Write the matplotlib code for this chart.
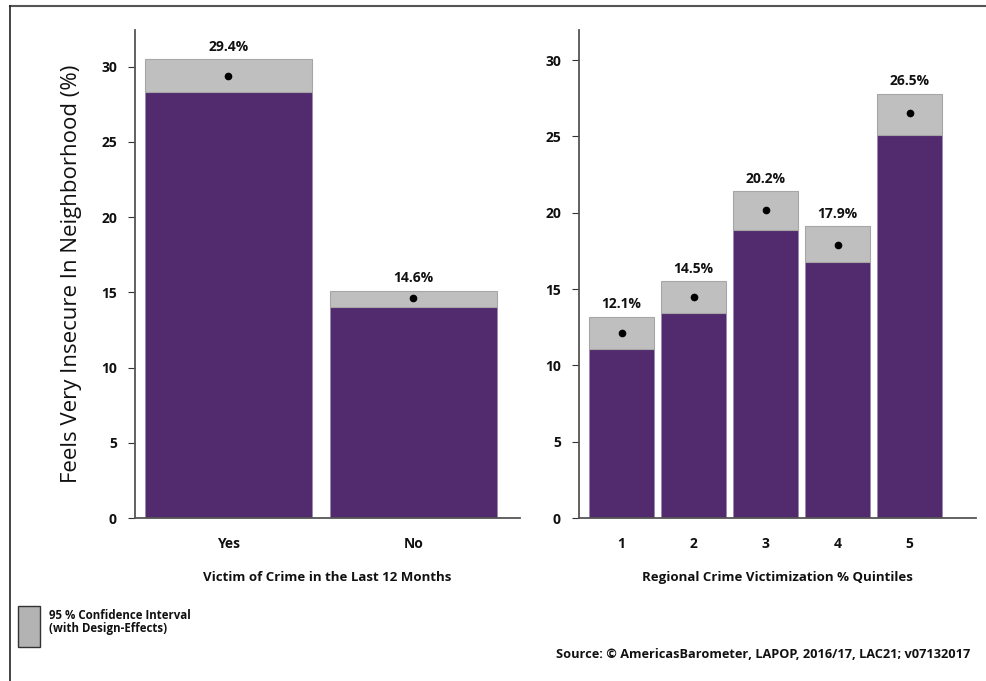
import matplotlib
matplotlib.use("Agg")
import matplotlib.pyplot as plt
from matplotlib.patches import Rectangle
from matplotlib.lines import Line2D

plt.rcParams['font.family'] = ['Open Sans', 'DejaVu Sans']

# Data
victim_cats = ["Yes", "No"]
victim_vals = [29.4, 14.6]
victim_lo = [28.3, 14.0]
victim_hi = [30.5, 15.1]

quint_cats = ["1", "2", "3", "4", "5"]
quint_vals = [12.1, 14.5, 20.2, 17.9, 26.5]
quint_lo = [11.1, 13.4, 18.9, 16.8, 25.1]
quint_hi = [13.2, 15.5, 21.4, 19.1, 27.8]

PURPLE = "#522a6e"
GREY = "#bfbfbf"
SPINE = "#555555"
WEIGHT = "bold"

W, H = 987, 681
fig = plt.figure(figsize=(W / 100, H / 100), dpi=100)


def px_axes(x0, y0, x1, y1):
    return fig.add_axes([x0 / W, 1 - y1 / H, (x1 - x0) / W, (y1 - y0) / H])


def panel(ax, cats, vals, lo, hi, xlim, ylim, xlabel):
    x = list(range(len(cats)))
    ax.bar(x, vals, width=0.9, color=PURPLE, edgecolor="#9c8aae", linewidth=0.6, zorder=2)
    for xi, l, h, v in zip(x, lo, hi, vals):
        ax.add_patch(Rectangle((xi - 0.45, l), 0.9, h - l, facecolor=GREY,
                               edgecolor="#a6a6a6", linewidth=0.8, zorder=3))
        ax.plot([xi], [v], marker="o", color="black", markersize=4.5, zorder=4)
        ax.annotate(f"{v:.1f}%", (xi, h), xytext=(0, 4), textcoords="offset points",
                    ha="center", va="bottom", fontsize=10, fontweight=WEIGHT, color="#111111")
    ax.set_xlim(*xlim)
    ax.set_ylim(*ylim)
    ax.set_xticks(x)
    ax.set_xticklabels(cats)
    ax.set_yticks([0, 5, 10, 15, 20, 25, 30])
    for s in ["top", "right"]:
        ax.spines[s].set_visible(False)
    for s in ["left", "bottom"]:
        ax.spines[s].set_color(SPINE)
        ax.spines[s].set_linewidth(1.3)
    ax.tick_params(axis="y", length=5, width=0.8, color="#333333", labelsize=10, pad=8)
    ax.tick_params(axis="x", length=0, labelsize=10, pad=14)
    for lab in ax.get_xticklabels() + ax.get_yticklabels():
        lab.set_fontweight(WEIGHT)
        lab.set_color("#111111")
    ax.set_xlabel(xlabel, fontsize=9.5, fontweight=WEIGHT, labelpad=14, color="#111111")


ax1 = px_axes(135, 30, 520, 518)
panel(ax1, victim_cats, victim_vals, victim_lo, victim_hi, (-0.505, 1.576), (0, 32.44),
      "Victim of Crime in the Last 12 Months")
ax1.set_ylabel("Feels Very Insecure In Neighborhood (%)", fontsize=16, fontweight="medium",
               labelpad=14, color="#111111")

ax2 = px_axes(579, 30, 976, 518)
panel(ax2, quint_cats, quint_vals, quint_lo, quint_hi, (-0.59, 4.92), (0, 31.97),
      "Regional Crime Victimization % Quintiles")

# outer frame (partially outside the image)
fig.add_artist(Line2D([9.5 / W, 1.0], [1 - 6 / H, 1 - 6 / H], color="#555555", linewidth=1.5))
fig.add_artist(Line2D([9.5 / W, 9.5 / W], [0, 1 - 6 / H], color="#222222", linewidth=1.2))

# legend
fig.add_artist(Rectangle((18 / W, 1 - 647 / H), 22 / W, 41 / H, facecolor="#b3b3b3",
                         edgecolor="#333333", linewidth=1.0, transform=fig.transFigure))
fig.text(49 / W, 1 - 622 / H, "95 % Confidence Interval\n(with Design-Effects)", fontsize=8.3,
         fontweight=WEIGHT, va="center", ha="left", linespacing=1.0, color="#111111")

fig.text(970 / W, 1 - 655 / H, "Source: \u00a9 AmericasBarometer, LAPOP, 2016/17, LAC21; v07132017",
         fontsize=9.2, fontweight=WEIGHT, ha="right", va="center", color="#111111")

fig.savefig("out.png", dpi=100)
